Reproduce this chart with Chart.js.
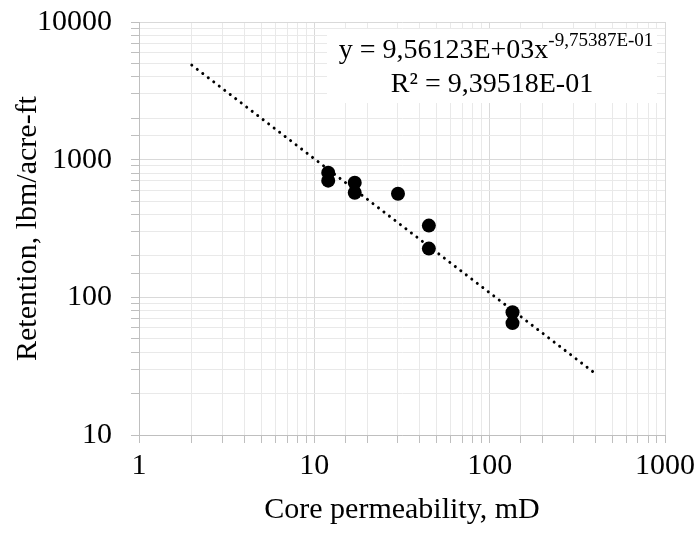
<!DOCTYPE html>
<html lang="en">
<head>
    <meta charset="UTF-8">
    <title>Retention vs core permeability</title>
    <script src="https://cdn.jsdelivr.net/npm/chart.js"></script>
    <style>
        html, body { margin: 0; padding: 0; background: #fff; }
        #wrap { width: 698px; height: 535px; }
    </style>
</head>
<body>
<div id="wrap"><canvas id="chart" width="698" height="535"></canvas></div>
<script>
    // measured points (core permeability mD, retention lbm/acre-ft)
    var permeability = [12, 12, 17, 17, 30, 45, 45, 135, 135];
    var retention = [805, 704, 681, 575, 566, 332, 226, 78, 65];

    // power trendline ends as drawn
    var trendX = [2, 415];
    var trendY = [4860, 27];

    var eqMain = 'y = 9,56123E+03x';
    var eqExp = '-9,75387E-01';
    var eqR2 = 'R\u00b2 = 9,39518E-01';

    var serif = "'Liberation Serif', 'Times New Roman', serif";

    function isDecade(v) {
        var l = Math.log10(v);
        return Math.abs(l - Math.round(l)) < 1e-9;
    }

    var gridColor = function(c) {
        return c.tick && isDecade(c.tick.value) ? '#d9d9d9' : '#e9e9e9';
    };

    var equationBox = {
        id: 'equationBox',
        afterDatasetsDraw: function(chart) {
            var ctx = chart.ctx;
            ctx.save();
            ctx.fillStyle = '#fff';
            ctx.fillRect(327, 29, 330, 74);
            ctx.fillStyle = '#000';
            ctx.textBaseline = 'alphabetic';
            ctx.font = '28px ' + serif;
            var w1 = ctx.measureText(eqMain).width;
            ctx.font = '19px ' + serif;
            var w2 = ctx.measureText(eqExp).width;
            var x0 = 496 - (w1 + w2) / 2;
            ctx.font = '28px ' + serif;
            ctx.textAlign = 'left';
            ctx.fillText(eqMain, x0, 58);
            ctx.font = '19px ' + serif;
            ctx.fillText(eqExp, x0 + w1, 46);
            ctx.font = '28px ' + serif;
            ctx.textAlign = 'center';
            ctx.fillText(eqR2, 492, 92);
            ctx.restore();
        }
    };

    var points = permeability.map(function(k, i) { return {x: k, y: retention[i]}; });
    var trend = trendX.map(function(k, i) { return {x: k, y: trendY[i]}; });

    new Chart(document.getElementById('chart'), {
        type: 'scatter',
        data: {
            datasets: [{
                data: points,
                backgroundColor: '#000',
                borderColor: '#000',
                pointRadius: 7,
                pointHoverRadius: 7,
                borderWidth: 0
            }, {
                type: 'line',
                data: trend,
                borderColor: '#000',
                borderWidth: 3,
                borderDash: [0.01, 6.9],
                borderCapStyle: 'round',
                pointRadius: 0,
                fill: false
            }]
        },
        plugins: [equationBox],
        options: {
            responsive: false,
            animation: false,
            layout: { padding: { top: 22, right: 33, left: 0, bottom: 0 } },
            plugins: { legend: { display: false }, tooltip: { enabled: false } },
            scales: {
                x: {
                    type: 'logarithmic',
                    min: 1,
                    max: 1000,
                    afterFit: function(s) {
                        s.height = 100;
                        s.paddingLeft = 0;
                        s.paddingRight = 0;
                    },
                    border: { color: '#bfbfbf', width: 1 },
                    grid: { color: gridColor, tickColor: '#bfbfbf', tickLength: 8 },
                    ticks: {
                        autoSkip: false,
                        maxRotation: 0,
                        padding: 5,
                        color: '#000',
                        font: { family: serif, size: 30 },
                        callback: function(v) { return isDecade(v) ? String(v) : ''; }
                    },
                    title: {
                        display: true,
                        text: 'Core permeability, mD',
                        color: '#000',
                        font: { family: serif, size: 30 },
                        padding: { bottom: 7 }
                    }
                },
                y: {
                    type: 'logarithmic',
                    min: 10,
                    max: 10000,
                    afterFit: function(s) {
                        s.width = 139;
                        s.paddingTop = 0;
                        s.paddingBottom = 0;
                    },
                    border: { color: '#bfbfbf', width: 1 },
                    grid: { color: gridColor, tickColor: '#bfbfbf', tickLength: 8 },
                    ticks: {
                        autoSkip: false,
                        padding: 19,
                        color: '#000',
                        font: { family: serif, size: 30 },
                        callback: function(v) { return isDecade(v) ? String(v) : ''; }
                    },
                    title: {
                        display: true,
                        text: 'Retention, lbm/acre-ft',
                        color: '#000',
                        font: { family: serif, size: 30 },
                        padding: { top: 10 }
                    }
                }
            }
        }
    });
</script>
</body>
</html>
